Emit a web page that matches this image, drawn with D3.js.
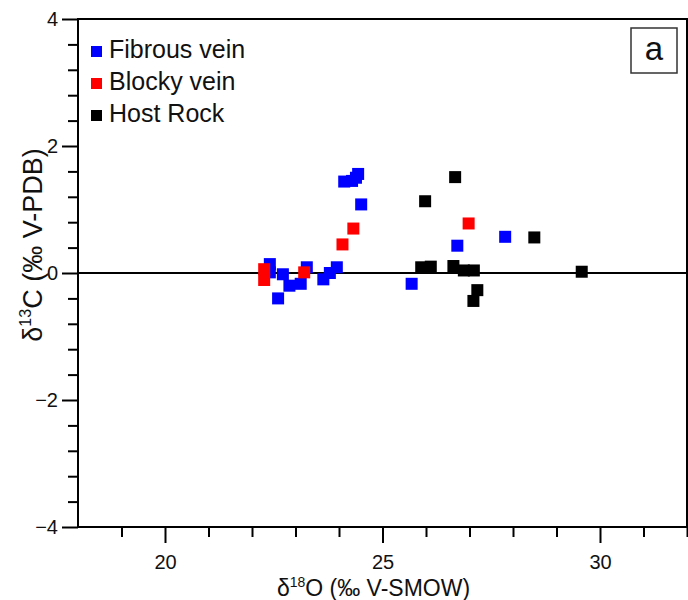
<!DOCTYPE html>
<html>
<head>
<meta charset="utf-8">
<script src="https://cdn.jsdelivr.net/npm/d3@7"></script>
<style>
  body { margin: 0; background: #fff; }
  svg { display: block; font-family: "Liberation Sans", Arial, sans-serif; }
</style>
</head>
<body>
<div id="chart_area"></div>
<script>
// series values (d18O, d13C)
var fibrousX = [24.12, 24.30, 24.39, 24.44, 24.51, 23.95, 23.79, 23.64, 23.26, 23.12, 22.86, 22.71, 22.60, 22.41, 22.41, 25.67, 26.72, 27.82];
var fibrousY = [1.44, 1.45, 1.50, 1.56, 1.08, 0.09, 0.00, -0.10, 0.09, -0.17, -0.20, -0.02, -0.40, 0.14, 0.01, -0.17, 0.43, 0.57];

var blockyX = [22.28, 22.28, 23.20, 24.08, 24.33, 26.98];
var blockyY = [0.06, -0.11, 0.01, 0.45, 0.70, 0.78];

var hostX = [25.98, 26.67, 28.49, 25.89, 26.11, 26.63, 26.87, 27.10, 27.18, 27.09, 29.58];
var hostY = [1.13, 1.51, 0.56, 0.09, 0.10, 0.11, 0.04, 0.04, -0.27, -0.44, 0.02];

var seriesNames = ["Fibrous vein", "Blocky vein", "Host Rock"];
var seriesColors = ["#0000ff", "#ff0000", "#000000"];

// ticks
var xMajorTicks = [20, 25, 30];
var xMinorTicks = [19, 21, 22, 23, 24, 26, 27, 28, 29, 31, 32];
var yMajorTicks = [-4, -2, 0, 2, 4];
var yMinorTicks = [-3.6, -3.2, -2.8, -2.4, -1.6, -1.2, -0.8, -0.4, 0.4, 0.8, 1.2, 1.6, 2.4, 2.8, 3.2, 3.6];

var W = 688, H = 600;
var margin = {left: 78, right: 1, top: 19, bottom: 73};
var width = W - margin.left - margin.right,
    height = H - margin.top - margin.bottom;

var svg = d3.select("#chart_area")
    .append("svg")
        .attr("width", W)
        .attr("height", H)
    .append("g")
        .attr("transform", "translate(" + margin.left + "," + margin.top + ")");

var x = d3.scaleLinear().domain([18, 32]).range([0, width]);
var y = d3.scaleLinear().domain([-4, 4]).range([height, 0]);

//x axis
svg.append("g")
    .attr("class", "axis")
    .attr("transform", "translate(0," + height + ")")
    .call(d3.axisBottom(x).tickValues(xMinorTicks).tickSize(10).tickFormat(""));
svg.append("g")
    .attr("class", "axis")
    .attr("transform", "translate(0," + height + ")")
    .call(d3.axisBottom(x).tickValues(xMajorTicks).tickSize(16).tickPadding(12).tickFormat(d3.format("d")));

//y axis
svg.append("g")
    .attr("class", "axis")
    .call(d3.axisLeft(y).tickValues(yMinorTicks).tickSize(10).tickFormat(""));
svg.append("g")
    .attr("class", "axis")
    .call(d3.axisLeft(y).tickValues(yMajorTicks).tickSize(16).tickPadding(4)
        .tickFormat(function(d){ return d < 0 ? "\u2212" + Math.abs(d) : d; }));

svg.selectAll(".axis path.domain").remove();
svg.selectAll(".axis line").attr("stroke", "#000").attr("stroke-width", 2);
svg.selectAll(".axis text").attr("fill", "#111").attr("font-size", "20px")
    .attr("font-family", "Liberation Sans, Arial, sans-serif");

//frame
svg.append("rect")
    .attr("x", 0).attr("y", 0)
    .attr("width", width).attr("height", height)
    .attr("fill", "none").attr("stroke", "#000").attr("stroke-width", 2);

//zero line
svg.append("line")
    .attr("x1", 0).attr("x2", width)
    .attr("y1", y(0)).attr("y2", y(0))
    .attr("stroke", "#000").attr("stroke-width", 2);

//points
var sz = 12;
var series = [
    {name: seriesNames[0], color: seriesColors[0], xs: fibrousX, ys: fibrousY},
    {name: seriesNames[1], color: seriesColors[1], xs: blockyX, ys: blockyY},
    {name: seriesNames[2], color: seriesColors[2], xs: hostX, ys: hostY}
];
series.forEach(function(s){
    var pts = s.xs.map(function(v, i){ return {x: v, y: s.ys[i]}; });
    svg.append("g").selectAll("rect")
        .data(pts)
        .enter().append("rect")
            .attr("x", function(d){ return x(d.x) - sz/2; })
            .attr("y", function(d){ return y(d.y) - sz/2; })
            .attr("width", sz)
            .attr("height", sz)
            .attr("fill", s.color);
});

//legend
var legend = svg.append("g").attr("transform", "translate(13,27)");
series.forEach(function(s, i){
    legend.append("rect")
        .attr("x", 0).attr("y", i*32)
        .attr("width", 11).attr("height", 11)
        .attr("fill", s.color);
    legend.append("text")
        .attr("x", 18).attr("y", i*32 + 12)
        .attr("font-size", "25px")
        .attr("fill", "#111")
        .text(s.name);
});

//panel tag
svg.append("rect")
    .attr("x", 553).attr("y", 9)
    .attr("width", 46).attr("height", 45)
    .attr("fill", "#fff").attr("stroke", "#333").attr("stroke-width", 1.5);
svg.append("text")
    .attr("x", 576).attr("y", 41)
    .attr("text-anchor", "middle")
    .attr("font-size", "33px")
    .attr("fill", "#111")
    .text("a");

//x label
var xl = svg.append("text")
    .attr("x", width/2 - 9)
    .attr("y", height + 69)
    .attr("font-size", "23px")
    .attr("text-anchor", "middle")
    .attr("fill", "#111");
xl.append("tspan").text("\u03b4");
xl.append("tspan").attr("font-size", "14px").attr("dy", "-9").text("18");
xl.append("tspan").attr("dy", "9").text("O (\u2030 V-SMOW)");

//y label
var yl = svg.append("text")
    .attr("transform", "translate(-36," + (y(0) - 28) + ") rotate(-90)")
    .attr("font-size", "27px")
    .attr("text-anchor", "middle")
    .attr("fill", "#111");
yl.append("tspan").text("\u03b4");
yl.append("tspan").attr("font-size", "16px").attr("dy", "-11").text("13");
yl.append("tspan").attr("dy", "11").text("C (\u2030 V-PDB)");
</script>
</body>
</html>
